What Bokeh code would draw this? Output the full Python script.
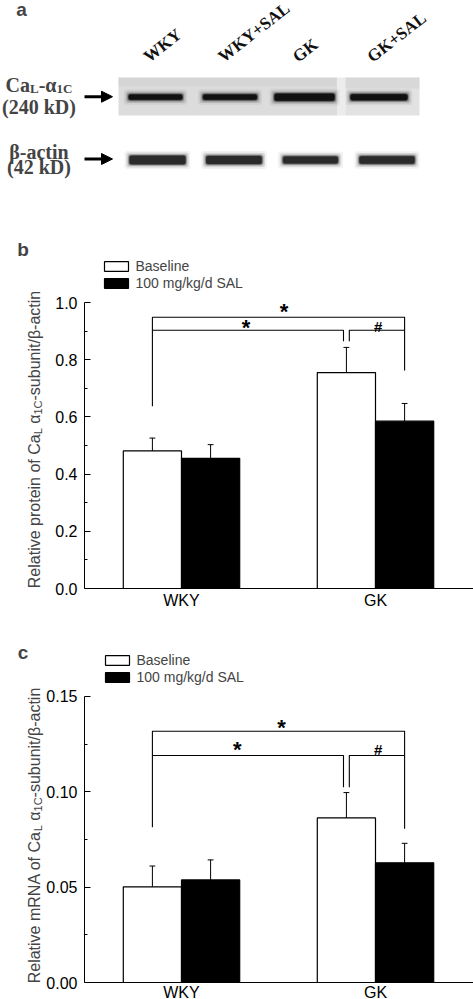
import math
from bokeh.plotting import figure
from bokeh.layouts import column
from bokeh.models import (Range1d, FixedTicker, PrintfTickFormatter, Label, Arrow,
                          NormalHead, Legend, LegendItem)
from bokeh.embed import file_html
from bokeh.resources import INLINE
from bokeh.core.properties import value

# ---------------- data ----------------
lanes = ["WKY", "WKY+SAL", "GK", "GK+SAL"]
cal_density = [0.60, 0.62, 1.00, 0.80]      # CaL-a1C band density (relative)
actin_density = [1.00, 0.92, 0.72, 0.80]    # beta-actin band density (relative)

groups = ["WKY", "GK"]
series_names = ["Baseline", "100 mg/kg/d SAL"]

protein_baseline = [0.481, 0.755]
protein_baseline_sem = [0.045, 0.088]
protein_sal = [0.455, 0.585]
protein_sal_sem = [0.048, 0.062]
protein_ticks = [0.0, 0.2, 0.4, 0.6, 0.8, 1.0]
protein_minor = [0.1, 0.3, 0.5, 0.7, 0.9]

mrna_baseline = [0.0502, 0.0863]
mrna_baseline_sem = [0.0109, 0.0133]
mrna_sal = [0.0538, 0.0628]
mrna_sal_sem = [0.0105, 0.0102]
mrna_ticks = [0.0, 0.05, 0.10, 0.15]
mrna_minor = [0.025, 0.075, 0.125]

sig_labels = ["*", "*", "#"]

# ---------------- style / layout ----------------
SANS = "Liberation Sans"
SERIF = "Liberation Serif"
PAGE_W = 473
A_TOP, B_TOP, C_TOP, PAGE_H = 0, 205, 625, 999
AXIS_X = 84             # pixel column of the y axes
PX_PER_X = 194.0        # pixels per category unit
BL = 5.0                # baseline correction for alphabetic text (px)

ARIAL = {' ': 278, 'R': 722, 'e': 556, 'l': 222, 'a': 556, 't': 278, 'i': 222, 'v': 500,
         'p': 556, 'r': 333, 'o': 556, 'n': 556, 'f': 278, 'C': 722, 'm': 833, 'N': 722,
         'A': 667, 'L': 556, '1': 556, '-': 333, 's': 500, 'u': 556, 'b': 556, '/': 278,
         'c': 500, 'α': 578, 'β': 575}
TIMESB = {'C': 722, 'a': 500, 'L': 667, '-': 333, 'α': 560, '1': 500}


def tw(s, size, table):
    return sum(table.get(ch, 556) for ch in s) / 1000.0 * size


# ---------------- panel a : western blot ----------------
pa = figure(width=PAGE_W, height=B_TOP - A_TOP, x_range=Range1d(0, PAGE_W),
            y_range=Range1d(B_TOP, A_TOP), output_backend="svg", toolbar_location=None,
            x_axis_type=None, y_axis_type=None, min_border=0,
            min_border_left=0, min_border_right=0, min_border_top=0, min_border_bottom=0)
pa.outline_line_color = None

# strip backgrounds
pa.quad(left=[118, 337, 345], right=[337, 345, 419], top=[77, 77, 77], bottom=[115, 115, 115],
        fill_color=["#dcdcdc", "#ececec", "#e2e2e2"], line_color=None)
pa.quad(left=[118, 345], right=[336, 419], top=[77, 77], bottom=[86, 88], fill_color="#cdcdcd",
        fill_alpha=0.45, line_color=None)

UP_X0, UP_STEP, UP_Y = 155.0, 74.5, 96.7
LO_X0, LO_STEP, LO_Y = 157.0, 76.5, 159.5


def draw_bands(x0, step, yc, dens, wbase, wgain, hbase, hgain, color):
    xs = [x0 + step * i for i in range(len(dens))]
    ws = [wbase + wgain * d for d in dens]
    hs = [hbase + hgain * d for d in dens]
    for pad, alpha in [(10, 0.06), (6.5, 0.13), (3.5, 0.3), (1.5, 0.55)]:
        pa.rect(x=xs, y=[yc] * len(xs), width=[w + pad for w in ws], height=[h + pad for h in hs],
                fill_color=color, fill_alpha=alpha, line_color=None, border_radius=3)
    pa.rect(x=xs, y=[yc] * len(xs), width=ws, height=hs, fill_color=color, line_color=None,
            border_radius=2)
    return xs


up_x = draw_bands(UP_X0, UP_STEP, UP_Y, cal_density, 44, 16, 2.5, 4.5, "#111111")
draw_bands(LO_X0, LO_STEP, LO_Y, actin_density, 52, 4, 4.0, 4.5, "#2a2a2a")

# lane labels (rotated)
ANG = math.radians(38)
for name, cx in zip(lanes, up_x):
    pa.add_layout(Label(x=cx - 6.5 - BL * math.sin(ANG), y=62 - BL * math.cos(ANG), text=name,
                        angle=ANG, text_font=SERIF, text_font_style="bold", text_font_size="17px",
                        text_align="left", text_baseline="alphabetic", text_color="#111111"))

# left labels
pa.add_layout(Label(x=21, y=14 - BL, text="a", text_font=SANS, text_font_style="bold",
                    text_font_size="19px", text_align="center", text_baseline="alphabetic"))
MAIN, SUB = 20, 13
pieces = [("Ca", MAIN, 0), ("L", SUB, 4), ("-α", MAIN, 0), ("1C", SUB, 4)]
total = sum(tw(t, s, TIMESB) for t, s, _ in pieces)
cur = 38.5 - total / 2
for t, s, dy in pieces:
    pa.add_layout(Label(x=cur, y=89 + dy - BL, text=t, text_font=SERIF, text_font_style="bold",
                        text_font_size=f"{s}px", text_align="left", text_baseline="alphabetic"))
    cur += tw(t, s, TIMESB)
for t, yb in [("(240 kD)", 111.5), ("β-actin", 156.5), ("(42 kD)", 171.5)]:
    pa.add_layout(Label(x=38.5, y=yb - BL, text=t, text_font=SERIF, text_font_style="bold",
                        text_font_size="20px", text_align="center", text_baseline="alphabetic"))
for ya in [UP_Y - 0.5, LO_Y - 1]:
    pa.add_layout(Arrow(x_start=84, y_start=ya, x_end=112, y_end=ya, line_width=3,
                        line_color="black",
                        end=NormalHead(size=11, fill_color="black", line_color="black")))


# ---------------- panels b and c ----------------
def bar_panel(letter, fig_top, fig_bottom, frame_bottom, px_per_unit, ticks, minor, fmt,
              base, base_sem, sal, sal_sem, label_mid, br, stars, legend_xy, xlab_standoff):
    height = fig_bottom - fig_top

    def rx(px):
        return 0.5 + (px - AXIS_X) / PX_PER_X

    def ry(py):
        return (frame_bottom - py) / px_per_unit

    p = figure(width=PAGE_W, height=height, x_range=Range1d(rx(0), rx(PAGE_W)),
               y_range=Range1d(ry(fig_bottom), ry(fig_top)), output_backend="svg",
               toolbar_location=None, min_border=0, min_border_left=0, min_border_right=0,
               min_border_top=0, min_border_bottom=0)
    p.outline_line_color = None
    p.xgrid.visible = False
    p.ygrid.visible = False

    xs = [i + 1 for i in range(len(groups))]
    xw = [x - 0.15 for x in xs]
    xb = [x + 0.15 for x in xs]
    r1 = p.vbar(x=xw, top=base, width=0.3, fill_color="white", line_color="black", line_width=1.2)
    r2 = p.vbar(x=xb, top=sal, width=0.3, fill_color="black", line_color="black", line_width=1.2)
    for xx, tops, sems in [(xw, base, base_sem), (xb, sal, sal_sem)]:
        hi = [t + s for t, s in zip(tops, sems)]
        p.segment(x0=xx, y0=tops, x1=xx, y1=hi, line_color="black", line_width=1)
        p.segment(x0=[x - 0.015 for x in xx], y0=hi, x1=[x + 0.015 for x in xx], y1=hi,
                  line_color="black", line_width=1)

    # significance brackets
    outer_y, inner_y, left_bot, right_bot, inner_bot = [ry(v) for v in br]
    xl, xr, xm = xw[0], xb[1], xw[1]
    p.multi_line(xs=[[xl, xl, xr, xr], [xl, xm - 0.015, xm - 0.015], [xm + 0.015, xm + 0.015, xr]],
                 ys=[[left_bot, outer_y, outer_y, right_bot], [inner_y, inner_y, inner_bot],
                     [inner_bot, inner_y, inner_y]],
                 line_color="black", line_width=1.1)
    for lab, (sxp, syp, s) in zip(sig_labels, stars):
        p.text(x=[rx(sxp)], y=[ry(syp)], text=[lab], text_font=value(SANS),
               text_font_style="bold", text_font_size=value(s), text_align="center",
               text_baseline="alphabetic", text_color="black")

    # legend (location measured from frame bottom-left, in pixels)
    leg = Legend(items=[LegendItem(label=series_names[0], renderers=[r1]),
                        LegendItem(label=series_names[1], renderers=[r2])],
                 location=(legend_xy[0], fig_bottom - legend_xy[1]), glyph_width=30,
                 glyph_height=12, label_height=12, label_standoff=5, spacing=1, padding=0,
                 margin=0, label_text_font=SANS, label_text_font_size="14px",
                 border_line_color=None, background_fill_alpha=0)
    p.add_layout(leg)

    # axes drawn at fixed data locations inside the full-canvas frame
    p.yaxis.fixed_location = 0.5
    p.yaxis.ticker = FixedTicker(ticks=ticks, minor_ticks=minor)
    p.yaxis.formatter = PrintfTickFormatter(format=fmt)
    p.yaxis.bounds = (ticks[0], ticks[-1])
    p.yaxis.major_tick_in = 6
    p.yaxis.major_tick_out = 0
    p.yaxis.minor_tick_in = 3
    p.yaxis.minor_tick_out = 0
    p.yaxis.major_label_standoff = 7
    p.xaxis.fixed_location = 0
    p.xaxis.bounds = (0.5, rx(PAGE_W))
    p.xaxis.ticker = FixedTicker(ticks=xs, minor_ticks=[])
    p.xaxis.major_label_overrides = {x: g for x, g in zip(xs, groups)}
    p.xaxis.major_tick_line_color = None
    p.xaxis.major_tick_in = 0
    p.xaxis.major_tick_out = 0
    p.xaxis.minor_tick_in = 0
    p.xaxis.minor_tick_out = 0
    p.xaxis.major_label_standoff = xlab_standoff
    p.axis.axis_line_color = "black"
    p.axis.minor_tick_line_color = "black"
    p.yaxis.major_tick_line_color = "black"
    p.axis.major_label_text_font = SANS
    p.axis.major_label_text_font_size = "16px"
    p.axis.major_label_text_color = "black"

    # panel letter
    p.add_layout(Label(x=rx(22.5), y=ry(letter[1] - BL), text=letter[0], text_font=SANS,
                       text_font_style="bold", text_font_size="19px", text_align="center",
                       text_baseline="alphabetic"))

    # rotated y-axis title with subscripts (pieces laid out bottom -> top)
    M, S = 16, 11
    first = "Relative protein of Ca" if letter[0] == "b" else "Relative mRNA of Ca"
    pcs = [(first, M, 0, 0), ("L", S, 3.5, 0), ("α", M, 0, tw(" ", M, ARIAL)), ("1C", S, 3.5, 0),
           ("-subunit/β-actin", M, 0, 0)]
    tot = sum(tw(t, s, ARIAL) + gap for t, s, _, gap in pcs)
    cur = label_mid + tot / 2
    for t, s, dx, gap in pcs:
        cur -= gap
        p.add_layout(Label(x=rx(38.5 + dx - BL), y=ry(cur), text=t, angle=math.pi / 2,
                           text_font=SANS, text_font_size=f"{s}px", text_align="left",
                           text_baseline="alphabetic"))
        cur -= tw(t, s, ARIAL)
    return p


pb = bar_panel(("b", 254.3), B_TOP, C_TOP, 588, 286.0, protein_ticks, protein_minor, "%.1f",
               protein_baseline, protein_baseline_sem, protein_sal, protein_sal_sem,
               439, (316.7, 329.7, 405.7, 370.0, 340.7),
               [(283.5, 307 + 3.5, "22px"), (245.5, 323.5 + 3.5, "22px"), (377.7, 329.5 - 4, "15px")],
               (100.5, 291), 3)
pc = bar_panel(("c", 656.7), C_TOP, PAGE_H, 982, 1906.7, mrna_ticks, mrna_minor, "%.2f",
               mrna_baseline, mrna_baseline_sem, mrna_sal, mrna_sal_sem,
               835, (730.7, 755.0, 826.7, 828.3, 786.7),
               [(281, 723.5 + 3.5, "22px"), (236.7, 745.5 + 3.5, "22px"), (377.7, 752.7 - 4, "15px")],
               (101.5, 684.7), 1)

layout = column(pa, pb, pc, spacing=0)
open("out.html", "w").write(file_html(layout, INLINE))
